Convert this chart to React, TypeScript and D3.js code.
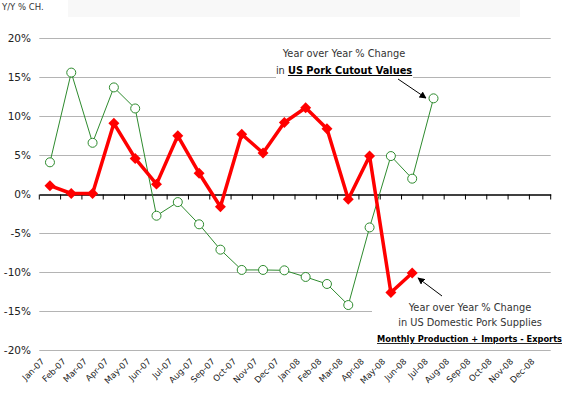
import { useEffect, useRef } from 'react';
import * as d3 from 'd3';

const months = [
  'Jan-07', 'Feb-07', 'Mar-07', 'Apr-07', 'May-07', 'Jun-07', 'Jul-07', 'Aug-07',
  'Sep-07', 'Oct-07', 'Nov-07', 'Dec-07', 'Jan-08', 'Feb-08', 'Mar-08', 'Apr-08',
  'May-08', 'Jun-08', 'Jul-08', 'Aug-08', 'Sep-08', 'Oct-08', 'Nov-08', 'Dec-08',
];

// Y/Y % change in US pork cutout values (green)
const cutoutValues = [
  4.0, 15.5, 6.5, 13.6, 10.9, -2.85, -1.1, -3.95, -7.2, -9.8, -9.8, -9.85,
  -10.7, -11.6, -14.3, -4.35, 4.8, 1.9, 12.2,
];

// Y/Y % change in US domestic pork supplies (red)
const porkSupplies = [
  1.0, 0.0, 0.0, 9.0, 4.5, 1.2, 7.4, 2.6, -1.7, 7.6, 5.2, 9.1,
  11.0, 8.3, -0.75, 4.8, -12.7, -10.2,
];

const yTicks = [-20, -15, -10, -5, 0, 5, 10, 15, 20];

const FONT = '"DejaVu Sans", sans-serif';

const App = () => {
  const svgRef = useRef<SVGSVGElement>(null);
  const width = 569;
  const height = 393;

  useEffect(() => {
    if (!svgRef.current) return;
    const svg = d3.select(svgRef.current);
    svg.selectAll('*').remove();

    const x = d3.scaleBand().domain(months).range([39.3, 550.7]);
    const y = d3.scaleLinear().domain([-20, 20]).range([349.5, 37.5]);
    const cx = (m: string) => (x(m) || 0) + x.bandwidth() / 2;

    // faint header band
    svg.append('rect')
      .attr('x', 68).attr('y', 0).attr('width', 452).attr('height', 17)
      .attr('fill', '#f8f8f8');

    svg.append('text')
      .attr('x', 2).attr('y', 10)
      .attr('font-family', FONT).attr('font-size', 8.5)
      .attr('fill', '#333')
      .text('Y/Y % CH.');

    // gridlines
    svg.append('g')
      .selectAll('line')
      .data(yTicks.filter(d => d !== 0))
      .enter().append('line')
      .attr('x1', 39.3).attr('x2', 550.7)
      .attr('y1', d => Math.round(y(d)) + 0.5)
      .attr('y2', d => Math.round(y(d)) + 0.5)
      .attr('stroke', '#b4b4b4')
      .attr('stroke-width', 1);

    // y axis labels
    svg.append('g')
      .selectAll('text')
      .data(yTicks)
      .enter().append('text')
      .attr('x', 31)
      .attr('y', d => y(d) + 4)
      .attr('text-anchor', 'end')
      .attr('font-family', FONT).attr('font-size', 10.5)
      .attr('fill', '#222')
      .text(d => `${d}%`);

    // annotation boxes hide gridlines
    svg.append('rect')
      .attr('x', 276).attr('y', 43).attr('width', 137).attr('height', 40)
      .attr('fill', 'white');
    svg.append('rect')
      .attr('x', 372).attr('y', 299).attr('width', 182).attr('height', 48)
      .attr('fill', 'white');

    // zero axis
    const axis = svg.append('g')
      .attr('transform', `translate(0, ${Math.round(y(0)) + 0.5})`)
      .call(d3.axisBottom(x).tickSize(0).tickFormat(() => ''));
    axis.select('.domain').attr('stroke', 'black').attr('stroke-width', 1.6);
    axis.selectAll('.tick').remove();
    axis.selectAll('.mtick')
      .data(months)
      .enter().append('line')
      .attr('class', 'mtick')
      .attr('x1', d => x(d) || 0).attr('x2', d => x(d) || 0)
      .attr('y1', 0).attr('y2', 5)
      .attr('stroke', 'black');
    axis.append('line')
      .attr('x1', 550.7).attr('x2', 550.7).attr('y1', 0).attr('y2', 5)
      .attr('stroke', 'black');

    // x labels
    svg.append('g')
      .selectAll('text')
      .data(months)
      .enter().append('text')
      .attr('text-anchor', 'end')
      .attr('transform', d => `translate(${cx(d) - 5}, ${362}) rotate(-45)`)
      .attr('font-family', FONT).attr('font-size', 8.5)
      .attr('fill', '#222')
      .text(d => d);

    // green series
    const greenData = cutoutValues.map((v, i) => ({ m: months[i], v }));
    const line = d3.line<{ m: string; v: number }>()
      .x(d => cx(d.m))
      .y(d => y(d.v));
    svg.append('path')
      .datum(greenData)
      .attr('d', line)
      .attr('fill', 'none')
      .attr('stroke', '#2e8b2e')
      .attr('stroke-width', 1);
    svg.append('g')
      .selectAll('circle')
      .data(greenData)
      .enter().append('circle')
      .attr('cx', d => cx(d.m))
      .attr('cy', d => y(d.v))
      .attr('r', 4.5)
      .attr('fill', 'white')
      .attr('stroke', '#2e8b2e')
      .attr('stroke-width', 1);

    // red series
    const redData = porkSupplies.map((v, i) => ({ m: months[i], v }));
    svg.append('path')
      .datum(redData)
      .attr('d', line)
      .attr('fill', 'none')
      .attr('stroke', '#ff0000')
      .attr('stroke-width', 3.5)
      .attr('stroke-linejoin', 'round');
    svg.append('g')
      .selectAll('path')
      .data(redData)
      .enter().append('path')
      .attr('d', d3.symbol().type(d3.symbolSquare).size(60))
      .attr('transform', d => `translate(${cx(d.m)}, ${y(d.v)}) rotate(45)`)
      .attr('fill', '#ff0000');

    // arrow marker
    svg.append('defs').append('marker')
      .attr('id', 'arrow')
      .attr('viewBox', '0 0 10 10')
      .attr('refX', 9).attr('refY', 5)
      .attr('markerWidth', 7).attr('markerHeight', 7)
      .attr('orient', 'auto')
      .append('path')
      .attr('d', 'M0,0 L10,5 L0,10 z')
      .attr('fill', 'black');

    // top annotation
    const top = svg.append('text')
      .attr('font-family', FONT).attr('font-size', 9.8)
      .attr('fill', '#333')
      .attr('text-anchor', 'middle');
    top.append('tspan').attr('x', 344).attr('y', 57).text('Year over Year % Change');
    const t2 = top.append('tspan').attr('x', 344).attr('y', 74);
    t2.append('tspan').text('in ');
    t2.append('tspan')
      .attr('font-weight', 'bold').attr('fill', 'black')
      .attr('text-decoration', 'underline')
      .text('US Pork Cutout Values');
    svg.append('line')
      .attr('x1', 398).attr('y1', 79).attr('x2', 426).attr('y2', 98)
      .attr('stroke', 'black').attr('stroke-width', 1)
      .attr('marker-end', 'url(#arrow)');

    // bottom annotation
    const bot = svg.append('text')
      .attr('font-family', FONT).attr('font-size', 9.8)
      .attr('fill', '#333')
      .attr('text-anchor', 'middle');
    bot.append('tspan').attr('x', 470).attr('y', 311).text('Year over Year % Change');
    bot.append('tspan').attr('x', 470).attr('y', 326).text('in US Domestic Pork Supplies');
    svg.append('text')
      .attr('x', 377).attr('y', 342)
      .attr('font-family', FONT).attr('font-size', 8.4)
      .attr('font-weight', 'bold').attr('fill', 'black')
      .attr('text-decoration', 'underline')
      .attr('textLength', 185)
      .attr('lengthAdjust', 'spacingAndGlyphs')
      .text('Monthly Production + Imports - Exports');
    svg.append('line')
      .attr('x1', 442).attr('y1', 296).attr('x2', 418).attr('y2', 278)
      .attr('stroke', 'black').attr('stroke-width', 1)
      .attr('marker-end', 'url(#arrow)');
  }, []);

  return (
    <svg
      ref={svgRef}
      width={width}
      height={height}
      style={{ display: 'block', position: 'absolute', left: 0, top: 0, background: 'white' }}
    />
  );
};

export default App;
